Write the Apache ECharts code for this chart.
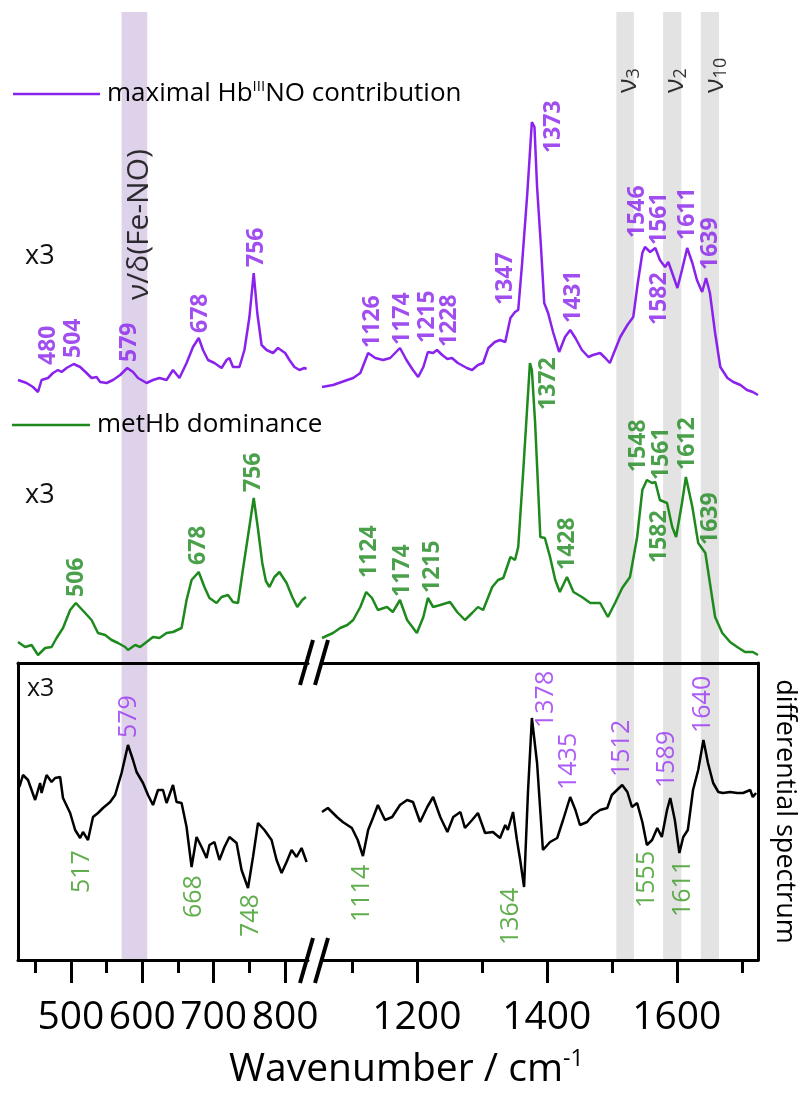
<!DOCTYPE html>
<html><head><meta charset="utf-8">
<script src="https://cdn.jsdelivr.net/npm/echarts@6/dist/echarts.min.js"></script>
<style>html,body{margin:0;padding:0;background:#fff}#c{width:799px;height:1095px}</style>
</head><body><div id="c"></div>
<script>
const FONT = "'Open Sans', 'Noto Sans', sans-serif";
const PURPLE = '#8a22ee', GREEN = '#1e8a1e', BLACK = '#000';
const PURPLE_T = '#9a33f5', GREEN_T = '#3a9a22';

// [wavenumber cm-1, relative intensity] ; top panel (x3 scaled spectra)
const purpleLeft = [[426,283],[438,280],[447,276],[454,271],[459,283],[468,285],[475,290],[482,293],[487,291],[494,295],[504,299],[513,296],[522,290],[529,285],[536,286],[541,281],[550,280],[559,283],[569,288],[579,295],[587,291],[594,285],[606,280],[615,283],[624,285],[634,283],[643,293],[652,285],[662,300],[671,316],[679,325],[685,313],[692,303],[701,300],[711,295],[718,303],[722,305],[727,296],[736,296],[743,313],[750,346],[756,390],[761,350],[767,318],[774,313],[783,310],[790,315],[800,310],[806,303],[813,296],[820,293],[827,295],[830,294]];
const purpleRight = [[1054,276],[1071,278],[1093,283],[1102,285],[1113,290],[1125,310],[1136,305],[1148,303],[1159,305],[1174,315],[1184,303],[1194,293],[1202,286],[1210,296],[1217,311],[1225,310],[1231,313],[1239,308],[1247,304],[1254,305],[1263,300],[1277,295],[1285,293],[1294,298],[1302,300],[1310,315],[1320,321],[1328,323],[1336,321],[1344,345],[1351,351],[1356,353],[1362,400],[1370,470],[1377,541],[1381,536],[1385,476],[1391,416],[1396,360],[1402,350],[1410,330],[1419,311],[1428,326],[1436,333],[1444,325],[1454,313],[1464,306],[1471,308],[1482,310],[1490,305],[1497,300],[1505,313],[1513,326],[1524,338],[1533,346],[1540,380],[1547,410],[1551,416],[1559,411],[1567,415],[1574,403],[1582,396],[1587,401],[1593,390],[1601,375],[1608,393],[1616,415],[1624,400],[1631,383],[1639,371],[1645,385],[1651,370],[1659,330],[1667,296],[1678,285],[1687,281],[1698,278],[1708,273],[1717,271],[1725,268]];
const greenLeft = [[426,21],[436,16],[445,18],[454,8],[464,15],[473,16],[480,25],[489,35],[499,53],[507,60],[520,50],[529,43],[538,30],[548,28],[557,23],[566,20],[576,16],[580,13],[590,18],[597,16],[606,21],[615,26],[624,25],[634,30],[643,31],[655,35],[662,63],[669,83],[679,91],[687,76],[694,65],[704,60],[711,66],[720,68],[727,61],[734,60],[741,94],[748,127],[756,165],[762,134],[768,100],[773,82],[778,76],[785,86],[792,91],[802,80],[810,66],[817,56],[824,63],[829,66]];
const greenRight = [[1054,25],[1071,30],[1082,35],[1093,38],[1102,43],[1113,56],[1122,71],[1131,65],[1140,53],[1154,56],[1163,51],[1174,63],[1185,43],[1200,30],[1210,46],[1217,65],[1225,56],[1236,58],[1251,61],[1262,51],[1274,43],[1285,50],[1294,56],[1302,53],[1316,76],[1325,83],[1333,85],[1344,106],[1351,103],[1356,116],[1364,195],[1370,258],[1374,300],[1377,293],[1382,240],[1386,183],[1390,126],[1397,125],[1405,106],[1413,83],[1420,71],[1431,86],[1441,71],[1454,66],[1467,60],[1482,60],[1494,46],[1505,60],[1516,75],[1528,86],[1539,126],[1547,173],[1554,183],[1562,180],[1567,181],[1574,163],[1585,160],[1593,136],[1599,126],[1608,160],[1614,186],[1624,156],[1633,120],[1644,110],[1651,80],[1659,46],[1670,30],[1682,21],[1693,16],[1705,11],[1717,11],[1725,8]];
// bottom panel: differential spectrum (x3)
const diffLeft = [[428,173],[433,185],[440,180],[450,160],[457,177],[459,167],[466,185],[473,178],[478,182],[485,183],[489,162],[499,147],[506,130],[513,122],[517,128],[524,120],[531,143],[538,147],[545,152],[555,158],[562,165],[571,187],[580,215],[587,200],[592,188],[601,177],[608,165],[615,155],[622,170],[629,170],[634,157],[643,175],[648,158],[655,157],[662,133],[669,93],[676,123],[683,113],[690,102],[694,115],[701,118],[708,100],[715,113],[722,123],[732,117],[739,90],[748,72],[755,103],[762,137],[771,130],[781,120],[788,100],[795,87],[802,98],[809,110],[816,103],[823,112],[830,98]];
const diffRight = [[1054,148],[1063,152],[1077,143],[1086,138],[1100,132],[1109,120],[1117,104],[1125,130],[1133,143],[1140,155],[1151,140],[1162,143],[1171,152],[1174,155],[1185,160],[1194,158],[1205,138],[1216,153],[1225,163],[1236,143],[1247,128],[1256,143],[1267,148],[1274,132],[1285,140],[1294,147],[1305,127],[1317,128],[1328,122],[1336,135],[1340,130],[1348,148],[1354,120],[1359,100],[1365,73],[1371,168],[1377,242],[1385,197],[1394,110],[1405,118],[1416,122],[1425,140],[1436,163],[1444,150],[1451,135],[1462,138],[1471,145],[1482,150],[1493,152],[1500,165],[1508,170],[1516,175],[1524,168],[1531,153],[1539,157],[1547,138],[1554,115],[1562,120],[1570,132],[1577,123],[1585,150],[1590,162],[1597,140],[1604,107],[1610,123],[1617,130],[1625,170],[1633,190],[1641,220],[1648,197],[1656,177],[1664,168],[1671,167],[1682,168],[1693,167],[1702,167],[1713,170],[1717,163],[1722,167]];

// highlighted regions (cm-1)
const purpleBands = [[571,607]];
const grayBands = [[1507,1534],[1579,1607],[1637,1665]];

// axis ticks / labels
const leftMajor = [500,600,700,800];
const leftMinor = [450,550,650,750];
const rightMajor = [1200,1400,1600];
const rightMinor = [1100,1300,1500,1700];

// peak annotations [wavenumber, intensity at label start, text]
const purpleLabelsL = [[469,298,'480'],[504,305,'504'],[582,301,'579'],[682,330,'678'],[760,396,'756']];
const purpleLabelsR = [[1131,315,'1126'],[1178,318,'1174'],[1216,320,'1215'],[1250,316,'1228'],[1336,358,'1347'],[1410,510,'1373'],[1441,340,'1431'],[1539,425,'1546'],[1573,418,'1561'],[1574,338,'1582'],[1617,423,'1611'],[1652,393,'1639']];
const greenLabelsL = [[508,66,'506'],[678,98,'678'],[755,171,'756']];
const greenLabelsR = [[1127,85,'1124'],[1178,66,'1174'],[1224,70,'1215'],[1402,253,'1372'],[1431,93,'1428'],[1541,191,'1548'],[1576,183,'1561'],[1573,100,'1582'],[1617,193,'1612'],[1652,118,'1639']];
const diffPurpleL = [[581,222,'579']];
const diffGreenL = [[515,67,'517'],[672,42,'668'],[752,23,'748']];
const diffPurpleR = [[1399,232,'1378'],[1434,170,'1435'],[1515,183,'1512'],[1585,172,'1589'],[1640,227,'1640']];
const diffGreenR = [[1116,38,'1114'],[1345,15,'1364'],[1554,52,'1555'],[1610,43,'1611']];
const modeLabelsR = [[1525,570,'{a|ν}{s|3}'],[1597,570,'{a|ν}{s|2}'],[1659,570,'{a|ν}{s|10}']];
const modeLabelsL = [[596,363,'ν/δ(Fe-NO)']];

const NAME_P = 'maximal HbIIINO contribution';
const NAME_G = 'metHb dominance';

const chart = echarts.init(document.getElementById('c'), null, {renderer:'canvas'});

function lineSeries(name, data, color, xi, yi) {
  return {type:'line', name, data, xAxisIndex:xi, yAxisIndex:yi, symbol:'none', showSymbol:false,
    lineStyle:{color, width:2.5}, itemStyle:{color}, z:3, silent:true, animation:false};
}
function labelSeries(data, color, bold, size, xi, yi) {
  return {type:'scatter', data, xAxisIndex:xi, yAxisIndex:yi, symbolSize:1, itemStyle:{color:'rgba(0,0,0,0)'},
    silent:true, z:4, animation:false,
    label:{show:true, position:'inside', rotate:90, align:'left', verticalAlign:'middle',
      formatter:p=>p.value[2], color, fontFamily:FONT, fontSize:size, fontWeight: bold?'bold':'normal',
      rich:{a:{fontSize:27, fontFamily:FONT, color, lineHeight:30}, s:{fontSize:18, fontFamily:FONT, color, verticalAlign:'bottom', lineHeight:18}}}};
}
function bandSeries(bands, color, xi, yi, x0) {
  return {type:'line', data:[[x0,0]], xAxisIndex:xi, yAxisIndex:yi, symbol:'none', silent:true, z:1,
    lineStyle:{width:0}, animation:false,
    markArea:{silent:true, itemStyle:{color}, data:bands.map(b=>[{xAxis:b[0]},{xAxis:b[1]}])}};
}

const axisLineStyle = {show:true, onZero:false, lineStyle:{color:BLACK, width:3}};
const tickLabel = {show:true, margin:38, color:BLACK, fontSize:39, fontFamily:FONT, formatter:v=>String(v)};

const option = {
  backgroundColor:'#fff',
  animation:false,
  textStyle:{fontFamily:FONT},
  grid:[
    {left:18, width:290, top:12, height:651, outerBoundsMode:'none', containLabel:false},
    {left:322, width:436, top:12, height:651, outerBoundsMode:'none', containLabel:false},
    {left:18, width:290, top:663, height:297, outerBoundsMode:'none', containLabel:false},
    {left:322, width:436, top:663, height:297, outerBoundsMode:'none', containLabel:false}
  ],
  xAxis:[
    {type:'value', gridIndex:0, min:426, max:832, show:false},
    {type:'value', gridIndex:1, min:1054, max:1725, show:false},
    {type:'value', gridIndex:2, min:426, max:832, position:'bottom', z:10, axisLine:axisLineStyle,
      axisTick:{show:true, customValues:leftMajor, length:23, lineStyle:{color:BLACK, width:3}},
      axisLabel:Object.assign({customValues:leftMajor}, tickLabel), splitLine:{show:false}},
    {type:'value', gridIndex:2, min:426, max:832, position:'bottom', z:10, axisLine:{show:false},
      axisTick:{show:true, customValues:leftMinor, length:13, lineStyle:{color:BLACK, width:3}},
      axisLabel:{show:false}, splitLine:{show:false}},
    {type:'value', gridIndex:2, min:426, max:832, position:'top', z:10, axisLine:axisLineStyle,
      axisTick:{show:false}, axisLabel:{show:false}, splitLine:{show:false}},
    {type:'value', gridIndex:3, min:1054, max:1725, position:'bottom', z:10, axisLine:axisLineStyle,
      axisTick:{show:true, customValues:rightMajor, length:23, lineStyle:{color:BLACK, width:3}},
      axisLabel:Object.assign({customValues:rightMajor}, tickLabel), splitLine:{show:false}},
    {type:'value', gridIndex:3, min:1054, max:1725, position:'bottom', z:10, axisLine:{show:false},
      axisTick:{show:true, customValues:rightMinor, length:13, lineStyle:{color:BLACK, width:3}},
      axisLabel:{show:false}, splitLine:{show:false}},
    {type:'value', gridIndex:3, min:1054, max:1725, position:'top', z:10, axisLine:axisLineStyle,
      axisTick:{show:false}, axisLabel:{show:false}, splitLine:{show:false}}
  ],
  yAxis:[
    {type:'value', gridIndex:0, min:0, max:651, show:false},
    {type:'value', gridIndex:1, min:0, max:651, show:false},
    {type:'value', gridIndex:2, min:0, max:297, position:'left', z:10, axisLine:axisLineStyle,
      axisTick:{show:false}, axisLabel:{show:false}, splitLine:{show:false}},
    {type:'value', gridIndex:3, min:0, max:297, position:'right', z:10, axisLine:axisLineStyle,
      axisTick:{show:false}, axisLabel:{show:false}, splitLine:{show:false},
      name:'differential spectrum', nameLocation:'middle', nameRotate:-90, nameGap:13,
      nameTextStyle:{color:BLACK, fontSize:27, fontFamily:FONT}}
  ],
  legend:[
    {data:[NAME_P], left:8, top:74, icon:'rect', itemWidth:87, itemHeight:2.5, selectedMode:false,
      formatter:()=>'{a|maximal Hb}{s|III}{a|NO contribution}',
      textStyle:{color:BLACK, padding:[0,0,0,2], rich:{a:{fontSize:26, fontFamily:FONT, color:BLACK, lineHeight:30}, s:{fontSize:15, fontFamily:FONT, color:BLACK, verticalAlign:'top', lineHeight:15}}}},
    {data:[NAME_G], left:7, top:407, icon:'rect', itemWidth:78, itemHeight:2.5, selectedMode:false,
      textStyle:{color:BLACK, fontSize:26, fontFamily:FONT, padding:[0,0,0,2]}}
  ],
  title:{text:'{a|Wavenumber / cm}{s|-1}', left:224, top:1043,
    textStyle:{fontWeight:'normal', rich:{a:{fontSize:39, fontFamily:FONT, fontWeight:'normal', color:BLACK, lineHeight:44}, s:{fontSize:23, fontFamily:FONT, fontWeight:'normal', color:BLACK, verticalAlign:'top', lineHeight:24}}}},
  graphic:[
    {type:'text', left:25, top:243, style:{text:'x3', fontSize:27, fontFamily:FONT, fill:'#111'}},
    {type:'text', left:25, top:482, style:{text:'x3', fontSize:27, fontFamily:FONT, fill:'#111'}},
    {type:'text', left:27, top:676, z:20, style:{text:'x3', fontSize:25, fontFamily:FONT, fill:'#111'}},
    {type:'line', z:20, shape:{x1:313,y1:640,x2:300,y2:685}, style:{stroke:BLACK, lineWidth:4}},
    {type:'line', z:20, shape:{x1:328,y1:640,x2:315,y2:685}, style:{stroke:BLACK, lineWidth:4}},
    {type:'line', z:20, shape:{x1:313,y1:938,x2:300,y2:983}, style:{stroke:BLACK, lineWidth:4}},
    {type:'line', z:20, shape:{x1:328,y1:938,x2:315,y2:983}, style:{stroke:BLACK, lineWidth:4}}
  ],
  series:[
    bandSeries(purpleBands, '#ddd2ea', 0, 0, 426),
    bandSeries(purpleBands, '#ddd2ea', 2, 2, 426),
    bandSeries(grayBands, '#e3e3e3', 1, 1, 1054),
    bandSeries(grayBands, '#e3e3e3', 5, 3, 1054),
    lineSeries(NAME_P, purpleLeft, PURPLE, 0, 0),
    lineSeries(NAME_P, purpleRight, PURPLE, 1, 1),
    lineSeries(NAME_G, greenLeft, GREEN, 0, 0),
    lineSeries(NAME_G, greenRight, GREEN, 1, 1),
    lineSeries('differential spectrum', diffLeft, BLACK, 2, 2),
    lineSeries('differential spectrum', diffRight, BLACK, 5, 3),
    labelSeries(purpleLabelsL, PURPLE, true, 23, 0, 0),
    labelSeries(purpleLabelsR, PURPLE, true, 23, 1, 1),
    labelSeries(greenLabelsL, GREEN, true, 23, 0, 0),
    labelSeries(greenLabelsR, GREEN, true, 23, 1, 1),
    labelSeries(diffPurpleL, PURPLE_T, false, 25, 2, 2),
    labelSeries(diffGreenL, GREEN_T, false, 25, 2, 2),
    labelSeries(diffPurpleR, PURPLE_T, false, 25, 5, 3),
    labelSeries(diffGreenR, GREEN_T, false, 25, 5, 3),
    labelSeries(modeLabelsR, BLACK, false, 27, 1, 1),
    labelSeries(modeLabelsL, BLACK, false, 30, 0, 0)
  ]
};
chart.setOption(option);
</script></body></html>
